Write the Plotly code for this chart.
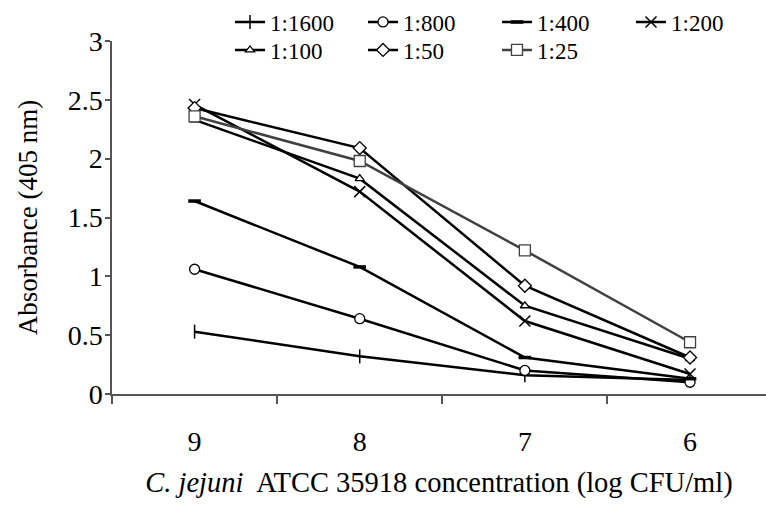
import plotly.graph_objects as go

categories = ["9", "8", "7", "6"]
series_names = ["1:1600", "1:800", "1:400", "1:200", "1:100", "1:50", "1:25"]
v_1600 = [0.53, 0.32, 0.16, 0.12]
v_800 = [1.06, 0.64, 0.20, 0.10]
v_400 = [1.64, 1.08, 0.31, 0.13]
v_200 = [2.46, 1.72, 0.62, 0.17]
v_100 = [2.33, 1.83, 0.75, 0.30]
v_50 = [2.43, 2.09, 0.92, 0.31]
v_25 = [2.36, 1.98, 1.22, 0.44]
values = [v_1600, v_800, v_400, v_200, v_100, v_50, v_25]

styles = [
    dict(symbol="line-ns", size=10, color="black", lc="black", lw=1.5, line="black"),
    dict(symbol="circle", size=10, color="white", lc="black", lw=1.3, line="black"),
    dict(symbol="line-ew", size=9, color="black", lc="black", lw=3.5, line="black"),
    dict(symbol="x-thin", size=11, color="black", lc="black", lw=1.5, line="black"),
    dict(symbol="triangle-up", size=8, color="white", lc="black", lw=1.3, line="black"),
    dict(symbol="diamond", size=10, color="white", lc="black", lw=1.3, line="black"),
    dict(symbol="square", size=11, color="white", lc="#404040", lw=1.3, line="#404040"),
]

W, H = 766, 507
ML, MT, MB = 112, 41, 113
PW, PH = W - ML, H - MT - MB

# legend placement (pixels from the top-left of the figure)
leg_x = [230, 363, 497, 631, 230, 363, 497]
leg_y = [22, 22, 22, 22, 50, 50, 50]

font = "Liberation Serif"

fig = go.Figure()
legends = {}
for i, (name, vals, st) in enumerate(zip(series_names, values, styles)):
    key = "legend" if i == 0 else f"legend{i + 1}"
    fig.add_trace(go.Scatter(
        x=categories, y=vals, name=name, mode="lines+markers",
        line=dict(color=st["line"], width=2.5),
        marker=dict(symbol=st["symbol"], size=st["size"], color=st["color"],
                    line=dict(color=st["lc"], width=st["lw"])),
        legend=key,
    ))
    legends[key] = dict(
        xref="paper", yref="paper",
        x=(leg_x[i] - ML) / PW, y=(H - MB - leg_y[i]) / PH,
        xanchor="left", yanchor="middle",
        font=dict(family=font, size=23, color="black"),
        bgcolor="rgba(0,0,0,0)", borderwidth=0,
    )

fig.update_layout(
    width=W, height=H,
    margin=dict(l=ML, r=0, t=MT, b=MB, pad=0, autoexpand=False),
    paper_bgcolor="white", plot_bgcolor="white",
    font=dict(family=font, color="black", size=28),
    showlegend=True,
    **legends,
    xaxis=dict(
        type="category", range=[-0.5, 3.46], tickson="boundaries",
        showline=True, linecolor="#555", linewidth=1.5, mirror=False,
        ticks="outside", ticklen=8, tickcolor="#555", tickwidth=1.5,
        tickfont=dict(family=font, size=28, color="black"),
        ticklabelstandoff=22,
        showgrid=False, zeroline=False,
        title=dict(text="<i>C. jejuni</i>  ATCC 35918 concentration (log CFU/ml)",
                   font=dict(family=font, size=28.5, color="black"), standoff=16),
    ),
    yaxis=dict(
        range=[0, 3], tickvals=[0, 0.5, 1, 1.5, 2, 2.5, 3],
        ticktext=["0", "0.5", "1", "1.5", "2", "2.5", "3"],
        showline=True, linecolor="#555", linewidth=1.5,
        ticks="outside", ticklen=5, tickcolor="#555", tickwidth=1.5,
        tickfont=dict(family=font, size=28, color="black"),
        ticklabelstandoff=-3,
        showgrid=False, zeroline=False,
        title=dict(text="Absorbance (405 nm)",
                   font=dict(family=font, size=27, color="black"), standoff=22),
    ),
)

fig.write_html("out.html", config={"displayModeBar": False},
               post_script="document.body.style.margin='0';")
